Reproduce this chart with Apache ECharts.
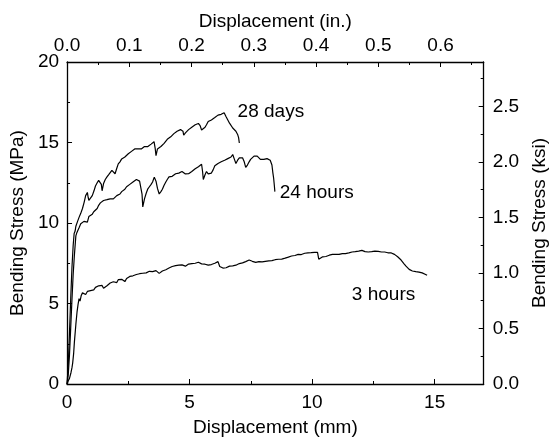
<!DOCTYPE html>
<html><head><meta charset="utf-8">
<script src="https://cdn.jsdelivr.net/npm/echarts@6/dist/echarts.min.js"></script>
<style>html,body{margin:0;padding:0;background:#fff}#c{width:557px;height:442px}</style>
</head><body><div id="c"></div>
<script>
// Series: [displacement mm, bending stress MPa]
const days28 = [[0,0],[0.05,1.2],[0.1,3.2],[0.15,5.3],[0.2,7.2],[0.25,8.6],[0.29,9.35],[0.33,9.5],[0.36,9.8],[0.43,10.1],[0.49,10.35],[0.56,10.6],[0.63,10.9],[0.7,11.3],[0.76,11.7],[0.83,11.9],[0.86,11.6],[0.89,11.4],[0.96,11.5],[1.03,11.7],[1.1,12.0],[1.16,12.3],[1.23,12.5],[1.29,12.65],[1.36,12.75],[1.4,12.4],[1.43,12.0],[1.49,12.45],[1.56,12.7],[1.63,12.86],[1.7,13.0],[1.76,13.1],[1.83,13.27],[1.9,13.2],[1.96,13.06],[2.03,13.4],[2.09,13.67],[2.16,13.8],[2.23,13.98],[2.29,14.05],[2.36,14.1],[2.43,14.22],[2.5,14.3],[2.56,14.35],[2.63,14.45],[2.7,14.5],[2.76,14.6],[2.83,14.55],[2.9,14.6],[2.96,14.63],[3.03,14.6],[3.1,14.7],[3.16,14.75],[3.23,14.8],[3.3,14.75],[3.36,14.85],[3.43,14.9],[3.49,14.96],[3.55,15.05],[3.6,14.6],[3.63,14.18],[3.69,14.6],[3.76,14.7],[3.83,14.75],[3.89,14.8],[3.96,14.95],[4.03,15.05],[4.09,15.2],[4.16,15.3],[4.23,15.35],[4.29,15.45],[4.36,15.55],[4.43,15.6],[4.49,15.7],[4.56,15.75],[4.63,15.8],[4.69,15.9],[4.73,15.7],[4.76,15.45],[4.83,15.6],[4.89,15.7],[4.96,15.8],[5.03,15.85],[5.09,15.95],[5.16,16.06],[5.23,16.1],[5.29,16.15],[5.36,16.18],[5.43,16.05],[5.49,15.78],[5.56,15.7],[5.63,15.95],[5.69,16.1],[5.76,16.3],[5.83,16.35],[5.89,16.4],[5.96,16.5],[6.03,16.55],[6.09,16.6],[6.16,16.7],[6.23,16.72],[6.29,16.75],[6.36,16.8],[6.41,16.85],[6.49,16.6],[6.56,16.4],[6.63,16.2],[6.69,16.1],[6.76,15.9],[6.83,15.8],[6.89,15.7],[6.96,15.5],[7.0,15.3],[7.03,14.97]];
const hours24 = [[0,0],[0.05,0.6],[0.1,1.8],[0.15,3.5],[0.2,5.2],[0.25,6.8],[0.3,8.0],[0.36,9.2],[0.4,9.4],[0.43,9.3],[0.49,9.7],[0.56,9.95],[0.63,10.0],[0.69,10.1],[0.76,10.16],[0.83,10.05],[0.89,10.4],[0.96,10.37],[1.03,10.55],[1.09,10.7],[1.16,10.78],[1.23,10.9],[1.29,11.1],[1.36,11.25],[1.43,11.3],[1.49,11.4],[1.56,11.39],[1.63,11.45],[1.69,11.42],[1.76,11.5],[1.83,11.55],[1.89,11.5],[1.96,11.6],[2.03,11.7],[2.09,11.65],[2.16,11.8],[2.23,11.95],[2.29,12.05],[2.36,12.1],[2.43,12.25],[2.49,12.35],[2.56,12.4],[2.63,12.45],[2.69,12.55],[2.76,12.6],[2.83,12.7],[2.89,12.76],[2.96,12.6],[3.02,12.7],[3.06,11.8],[3.09,11.0],[3.16,11.5],[3.23,11.85],[3.29,12.1],[3.36,12.25],[3.43,12.4],[3.49,12.55],[3.56,12.85],[3.6,12.9],[3.63,12.6],[3.69,12.15],[3.76,11.8],[3.79,11.75],[3.83,11.95],[3.89,12.1],[3.96,12.35],[4.03,12.55],[4.09,12.7],[4.16,12.86],[4.23,12.8],[4.29,12.9],[4.36,12.95],[4.43,13.06],[4.49,13.0],[4.56,13.1],[4.63,13.15],[4.69,13.2],[4.76,13.1],[4.83,13.05],[4.89,13.1],[4.96,13.06],[5.03,13.15],[5.09,13.2],[5.16,13.3],[5.23,13.37],[5.29,13.45],[5.36,13.5],[5.43,13.6],[5.49,13.65],[5.53,13.2],[5.56,12.7],[5.63,13.0],[5.69,13.2],[5.76,13.05],[5.83,13.0],[5.89,13.1],[5.96,13.3],[6.03,13.55],[6.09,13.6],[6.16,13.7],[6.23,13.75],[6.29,13.8],[6.36,13.85],[6.43,13.9],[6.49,13.95],[6.56,14.0],[6.63,14.05],[6.69,14.1],[6.76,14.25],[6.79,14.3],[6.83,13.95],[6.89,13.7],[6.96,13.9],[7.03,14.05],[7.09,14.0],[7.16,14.05],[7.23,13.8],[7.29,13.45],[7.36,13.6],[7.43,13.8],[7.49,13.95],[7.56,14.05],[7.63,14.15],[7.69,14.2],[7.76,14.15],[7.83,14.05],[7.89,13.95],[7.96,13.98],[8.03,13.95],[8.09,13.9],[8.16,14.0],[8.23,13.95],[8.29,13.9],[8.36,13.6],[8.4,13.1],[8.43,12.78],[8.46,12.3],[8.48,11.95]];
const hours3 = [[0,0],[0.05,0.2],[0.1,0.35],[0.16,0.7],[0.2,1.0],[0.23,1.3],[0.27,1.9],[0.3,2.6],[0.36,3.7],[0.41,4.5],[0.45,4.95],[0.49,5.3],[0.53,5.15],[0.58,5.5],[0.63,5.66],[0.69,5.6],[0.76,5.56],[0.83,5.75],[0.89,5.68],[0.96,5.8],[1.03,5.9],[1.09,5.85],[1.16,6.0],[1.23,5.95],[1.29,6.1],[1.36,6.07],[1.43,6.12],[1.49,5.95],[1.56,5.87],[1.63,6.1],[1.69,6.2],[1.76,6.27],[1.83,6.2],[1.89,6.35],[1.96,6.38],[2.03,6.3],[2.09,6.48],[2.16,6.54],[2.23,6.5],[2.29,6.42],[2.36,6.36],[2.43,6.55],[2.49,6.62],[2.56,6.68],[2.63,6.6],[2.69,6.72],[2.76,6.78],[2.83,6.8],[2.89,6.74],[2.96,6.85],[3.03,6.9],[3.09,6.88],[3.16,6.95],[3.23,6.9],[3.29,7.0],[3.36,7.0],[3.43,7.05],[3.49,6.98],[3.56,7.06],[3.63,7.04],[3.69,6.95],[3.76,6.87],[3.83,6.98],[3.89,7.02],[3.96,7.06],[4.03,7.1],[4.09,7.15],[4.16,7.2],[4.23,7.26],[4.29,7.3],[4.36,7.28],[4.43,7.35],[4.49,7.4],[4.56,7.38],[4.63,7.45],[4.69,7.4],[4.76,7.35],[4.83,7.32],[4.89,7.3],[4.96,7.45],[5.03,7.52],[5.09,7.48],[5.16,7.55],[5.23,7.5],[5.29,7.58],[5.36,7.56],[5.43,7.5],[5.49,7.46],[5.56,7.5],[5.63,7.44],[5.69,7.4],[5.76,7.38],[5.83,7.35],[5.89,7.42],[5.96,7.48],[6.03,7.5],[6.09,7.55],[6.16,7.6],[6.2,7.58],[6.23,7.3],[6.29,7.25],[6.36,7.2],[6.43,7.28],[6.49,7.22],[6.56,7.3],[6.63,7.32],[6.69,7.36],[6.76,7.34],[6.83,7.4],[6.89,7.38],[6.96,7.45],[7.03,7.48],[7.09,7.5],[7.16,7.52],[7.23,7.55],[7.29,7.6],[7.36,7.65],[7.43,7.7],[7.49,7.66],[7.56,7.62],[7.63,7.6],[7.7,7.55],[7.76,7.58],[7.83,7.6],[7.89,7.62],[7.96,7.58],[8.03,7.6],[8.09,7.62],[8.16,7.6],[8.23,7.65],[8.29,7.68],[8.36,7.66],[8.43,7.7],[8.49,7.72],[8.56,7.7],[8.63,7.75],[8.7,7.78],[8.76,7.76],[8.83,7.8],[8.9,7.82],[8.96,7.86],[9.03,7.88],[9.1,7.92],[9.16,7.95],[9.23,8.0],[9.3,7.98],[9.36,8.02],[9.43,8.05],[9.5,8.06],[9.56,8.04],[9.63,8.1],[9.7,8.12],[9.76,8.1],[9.83,8.15],[9.89,8.18],[9.96,8.16],[10.03,8.2],[10.1,8.18],[10.16,8.2],[10.22,8.17],[10.27,7.75],[10.33,7.8],[10.43,7.9],[10.5,7.95],[10.56,7.92],[10.63,7.98],[10.7,8.0],[10.76,8.02],[10.83,8.05],[10.9,8.03],[10.96,8.06],[11.03,8.08],[11.1,8.05],[11.16,8.1],[11.23,8.1],[11.3,8.12],[11.36,8.1],[11.43,8.15],[11.5,8.14],[11.56,8.18],[11.63,8.2],[11.7,8.18],[11.76,8.22],[11.83,8.2],[11.9,8.25],[11.96,8.28],[12.03,8.3],[12.1,8.25],[12.16,8.22],[12.23,8.26],[12.29,8.2],[12.36,8.24],[12.43,8.22],[12.5,8.26],[12.56,8.25],[12.63,8.22],[12.7,8.24],[12.76,8.2],[12.83,8.2],[12.9,8.18],[12.96,8.2],[13.03,8.16],[13.09,8.15],[13.16,8.12],[13.23,8.14],[13.29,8.1],[13.36,8.05],[13.43,7.98],[13.49,7.9],[13.56,7.8],[13.63,7.7],[13.69,7.6],[13.76,7.45],[13.83,7.32],[13.89,7.2],[13.96,7.12],[14.03,7.05],[14.09,7.02],[14.16,7.03],[14.23,6.98],[14.29,7.0],[14.36,6.95],[14.43,6.9],[14.49,6.9],[14.56,6.82],[14.63,6.8],[14.69,6.75]];
const seriesNames = ['28 days', '24 hours', '3 hours'];
// label anchor points [mm, MPa]
const labelAnchors = [[6.96, 16.9], [8.68, 11.9], [11.62, 5.57]];
const xMaxMM = 17, yMaxMPa = 20;
const MM_PER_IN = 25.4, MPA_PER_KSI = 6.895;

const FONT = 'Liberation Sans, Arial, sans-serif';
const txt = {color:'#000', fontFamily: FONT, fontSize: 19};
const axisBase = {
  axisLine:{show:true, onZero:false, lineStyle:{color:'#000', width:1.3}},
  axisTick:{show:true, inside:true, length:5, lineStyle:{color:'#000', width:1}},
  minorTick:{show:true, splitNumber:2, length:3, lineStyle:{color:'#000', width:1}},
  splitLine:{show:false}, minorSplitLine:{show:false},
  axisLabel:Object.assign({margin:8}, txt),
  nameTextStyle: txt, nameLocation:'middle'
};
function fmt(step, dec){ return v => (Math.abs(v/step - Math.round(v/step)) < 1e-6) ? v.toFixed(dec) : ''; }

const chart = echarts.init(document.getElementById('c'), null, {renderer:'canvas'});
const datas = [days28, hours24, hours3];
chart.setOption({
  animation:false,
  backgroundColor:'#fff',
  grid:{left:66, right:66, top:62, bottom:54, containLabel:false},
  xAxis:[
    Object.assign({}, axisBase, {type:'value', position:'bottom', min:0, max:xMaxMM, interval:5,
      name:'Displacement (mm)', nameGap:34,
      axisLabel:Object.assign({margin:9, formatter:fmt(5,0)}, txt)}),
    Object.assign({}, axisBase, {type:'value', position:'top', min:0, max:xMaxMM/MM_PER_IN, interval:0.1,
      name:'Displacement (in.)', nameGap:31,
      axisLabel:Object.assign({margin:7, formatter:fmt(0.1,1)}, txt)})
  ],
  yAxis:[
    Object.assign({}, axisBase, {type:'value', position:'left', min:0, max:yMaxMPa, interval:5,
      name:'Bending Stress (MPa)', nameGap:34, nameRotate:90}),
    Object.assign({}, axisBase, {type:'value', position:'right', min:0, max:yMaxMPa/MPA_PER_KSI, interval:0.5,
      name:'Bending Stress (ksi)', nameGap:44, nameRotate:90,
      axisLabel:Object.assign({margin:9, formatter:fmt(0.5,1)}, txt)})
  ],
  series: datas.map((d,i)=>({
    type:'line', name:seriesNames[i], xAxisIndex:0, yAxisIndex:0, data:d,
    showSymbol:false, symbol:'none', smooth:false,
    lineStyle:{color:'#000', width:1.2},
    markPoint:{symbol:'circle', symbolSize:0, silent:true,
      data:[{coord:labelAnchors[i], label:Object.assign({show:true, position:'right', distance:0, formatter:seriesNames[i]}, txt)}]}
  }))
});
</script></body></html>
